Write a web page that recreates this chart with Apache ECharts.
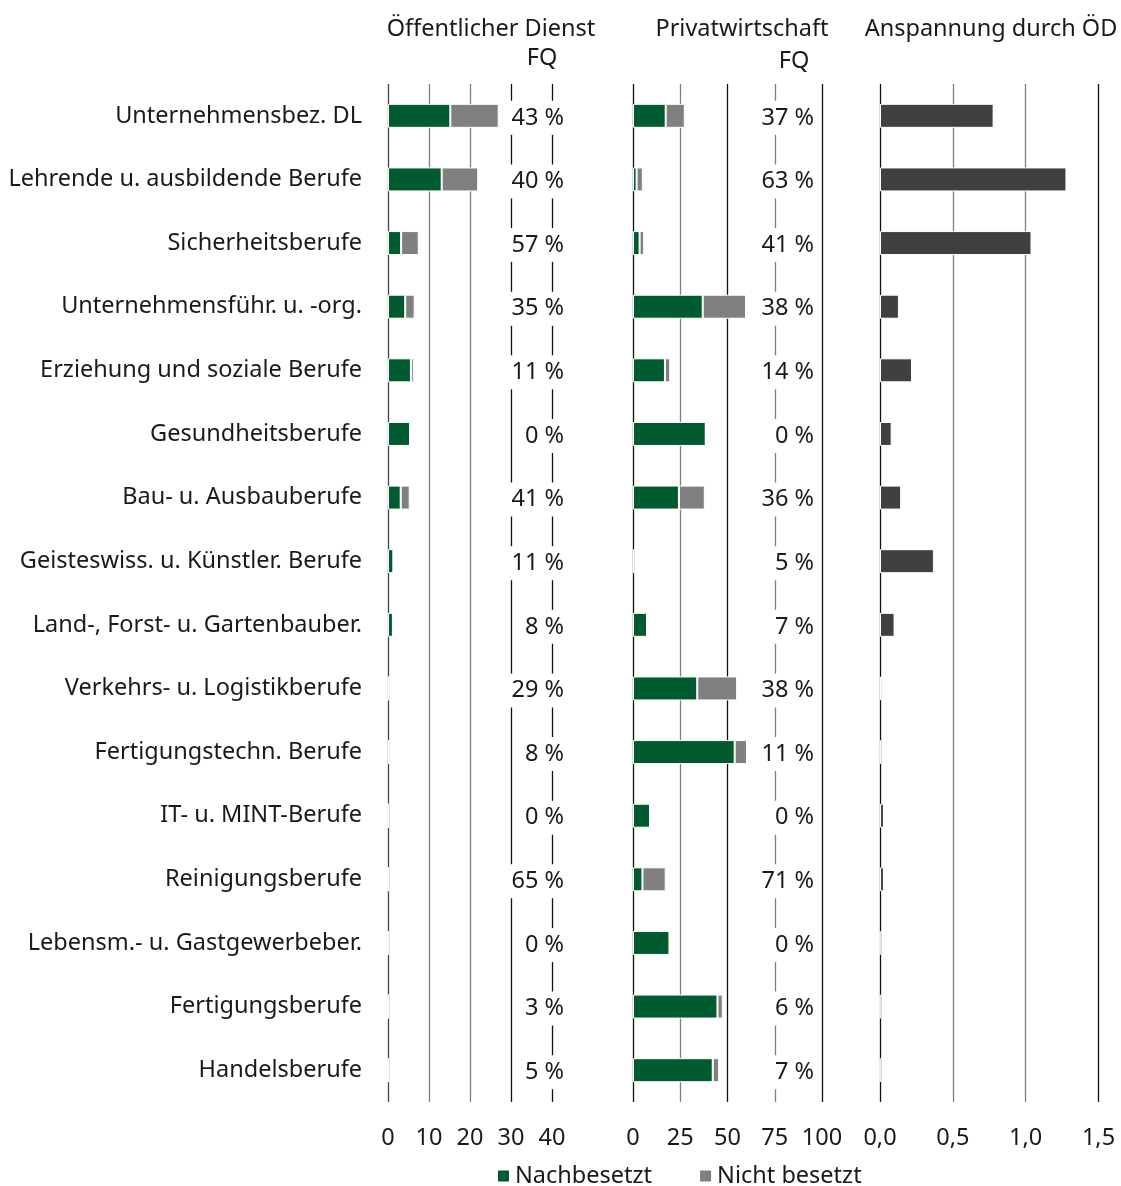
<!DOCTYPE html>
<html>
<head>
<meta charset="utf-8">
<script src="https://cdn.jsdelivr.net/npm/echarts@6/dist/echarts.min.js"></script>
<style>
  html, body { margin: 0; padding: 0; background: #fff; }
  #chart { width: 1121px; height: 1186px; }
</style>
</head>
<body>
<div id="chart"></div>
<script>
// Berufsgruppen (von oben nach unten)
var categories = [
  'Unternehmensbez. DL', 'Lehrende u. ausbildende Berufe', 'Sicherheitsberufe',
  'Unternehmensführ. u. -org.', 'Erziehung und soziale Berufe', 'Gesundheitsberufe',
  'Bau- u. Ausbauberufe', 'Geisteswiss. u. Künstler. Berufe', 'Land-, Forst- u. Gartenbauber.',
  'Verkehrs- u. Logistikberufe', 'Fertigungstechn. Berufe', 'IT- u. MINT-Berufe',
  'Reinigungsberufe', 'Lebensm.- u. Gastgewerbeber.', 'Fertigungsberufe', 'Handelsberufe'
];

// Öffentlicher Dienst
var oedNach   = [15.2, 13.1, 3.2, 4.2, 5.6, 5.4, 3.1, 1.3, 1.2, 0.15, 0.2, 0.1, 0.04, 0.03, 0.03, 0.03];
var oedNicht  = [11.8, 8.9, 4.3, 2.3, 0.7, 0, 2.2, 0.16, 0.1, 0.06, 0.02, 0, 0.07, 0, 0.001, 0.002];
var oedFQ     = [43, 40, 57, 35, 11, 0, 41, 11, 8, 29, 8, 0, 65, 0, 3, 5];

// Privatwirtschaft
var pwNach    = [17.3, 1.9, 3.5, 36.9, 16.9, 38.5, 24.3, 1.2, 7.4, 34.0, 53.8, 9.0, 5.0, 19.3, 44.7, 42.2];
var pwNicht   = [10.1, 3.3, 2.4, 22.9, 2.8, 0, 13.7, 0.06, 0.55, 21.1, 6.5, 0, 12.3, 0, 2.8, 3.4];
var pwFQ      = [37, 63, 41, 38, 14, 0, 36, 5, 7, 38, 11, 0, 71, 0, 6, 7];

// Anspannung durch ÖD
var anspannung = [0.78, 1.28, 1.04, 0.13, 0.22, 0.08, 0.145, 0.37, 0.10, 0.01, 0.005, 0.027, 0.027, 0.002, 0.002, 0.003];

var oedTicks = [0, 10, 20, 30, 40];
var pwTicks = [0, 25, 50, 75, 100];
var anspTicks = [0, 0.5, 1.0, 1.5];

var FONT = 'Noto Sans';
var FS = 23.5;
var TXT = '#1a1a1a';
var GREEN = '#005c30';
var GRAY = '#808080';
var DARK = '#404040';

var chart = echarts.init(document.getElementById('chart'));

var gridTop = 84, gridHeight = 1018;

function xAxisFor(idx, ticks, colors, fmt) {
  return {
    type: 'value', gridIndex: idx,
    min: ticks[0], max: ticks[ticks.length - 1],
    interval: ticks[1] - ticks[0],
    axisLine: { show: false }, axisTick: { show: false },
    axisLabel: { color: TXT, fontFamily: FONT, fontSize: FS, margin: 24, formatter: fmt },
    splitLine: { show: true, lineStyle: { color: colors, width: 1.3 } }
  };
}

function yAxisFor(idx, showLabels) {
  return {
    type: 'category', gridIndex: idx, data: categories, inverse: true,
    axisLine: { show: false }, axisTick: { show: false },
    axisLabel: { show: showLabels, color: TXT, fontFamily: FONT, fontSize: FS, margin: 26 }
  };
}

// FQ-Beschriftung mit weißem Hintergrund (unterbricht die Gitterlinien)
function fqLabels(xIdx, xVal, fq, offX) {
  return {
    type: 'scatter', xAxisIndex: xIdx, yAxisIndex: xIdx, symbolSize: 0, clip: false,
    silent: true, z: 5,
    itemStyle: { opacity: 1 },
    data: categories.map(function (c, i) { return { value: [xVal, c], fq: fq[i] }; }),
    label: {
      show: true, position: 'left', distance: 0, offset: [offX, 2],
      color: TXT, fontFamily: FONT, fontSize: FS,
      backgroundColor: '#fff', padding: [5, 2],
      formatter: function (p) { return p.data.fq + ' %'; }
    }
  };
}

var barBase = { type: 'bar', barWidth: 24, itemStyle: { borderColor: '#fff', borderWidth: 1 } };

function titleAt(text, x, y) {
  return { text: text, left: x, top: y, textAlign: 'center',
    textStyle: { fontFamily: FONT, fontSize: FS, fontWeight: 'normal', color: TXT } };
}

var option = {
  backgroundColor: '#fff',
  animation: false,
  textStyle: { fontFamily: FONT },
  title: [
    titleAt('Öffentlicher Dienst', 486, 12),
    titleAt('FQ', 537, 41),
    titleAt('Privatwirtschaft', 737, 12),
    titleAt('FQ', 789, 44),
    titleAt('Anspannung durch ÖD', 986, 12)
  ],
  legend: {
    top: 1159, left: 491,
    data: ['Nachbesetzt', 'Nicht besetzt'],
    icon: 'rect', itemWidth: 13, itemHeight: 13, itemGap: 46,
    textStyle: { fontFamily: FONT, fontSize: FS, color: TXT }
  },
  grid: [
    { left: 388, width: 164, top: gridTop, height: gridHeight },
    { left: 633, width: 189, top: gridTop, height: gridHeight },
    { left: 880, width: 218.5, top: gridTop, height: gridHeight }
  ],
  xAxis: [
    xAxisFor(0, oedTicks, ['#444', '#7f7f7f', '#7f7f7f', '#111', '#111']),
    xAxisFor(1, pwTicks, ['#111', '#7f7f7f', '#111', '#7f7f7f', '#111']),
    xAxisFor(2, anspTicks, ['#111', '#7f7f7f', '#7f7f7f', '#111'],
      function (v) { return v.toFixed(1).replace('.', ','); })
  ],
  yAxis: [yAxisFor(0, true), yAxisFor(1, false), yAxisFor(2, false)],
  series: [
    Object.assign({}, barBase, { name: 'Nachbesetzt', xAxisIndex: 0, yAxisIndex: 0, stack: 'oed',
      data: oedNach, itemStyle: Object.assign({}, barBase.itemStyle, { color: GREEN }) }),
    Object.assign({}, barBase, { name: 'Nicht besetzt', xAxisIndex: 0, yAxisIndex: 0, stack: 'oed',
      data: oedNicht, itemStyle: Object.assign({}, barBase.itemStyle, { color: GRAY }) }),
    fqLabels(0, 40, oedFQ, 14),
    Object.assign({}, barBase, { name: 'Nachbesetzt', xAxisIndex: 1, yAxisIndex: 1, stack: 'pw',
      data: pwNach, itemStyle: Object.assign({}, barBase.itemStyle, { color: GREEN }) }),
    Object.assign({}, barBase, { name: 'Nicht besetzt', xAxisIndex: 1, yAxisIndex: 1, stack: 'pw',
      data: pwNicht, itemStyle: Object.assign({}, barBase.itemStyle, { color: GRAY }) }),
    fqLabels(1, 100, pwFQ, -6),
    Object.assign({}, barBase, { name: 'Anspannung', xAxisIndex: 2, yAxisIndex: 2,
      data: anspannung, itemStyle: Object.assign({}, barBase.itemStyle, { color: DARK }) })
  ]
};

chart.setOption(option);
</script>
</body>
</html>
